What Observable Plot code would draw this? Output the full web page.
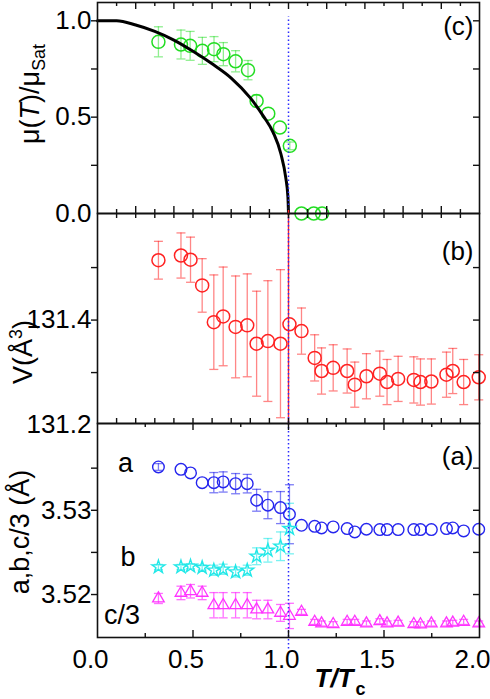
<!DOCTYPE html>
<html><head><meta charset="utf-8">
<script src="https://cdn.jsdelivr.net/npm/d3@7"></script>
<script src="https://cdn.jsdelivr.net/npm/@observablehq/plot@0.6"></script>
<style>
body{margin:0;background:#fff;}
#chart{position:relative;width:490px;height:699px;overflow:hidden;font-family:"Liberation Sans",Arial,sans-serif;background:#fff;}
#chart svg{position:absolute;left:0;}
.ylab{position:absolute;white-space:nowrap;font-size:27px;line-height:1;transform:translate(-50%,-50%) rotate(-90deg);color:#000;}
.sub{font-size:0.66em;position:relative;top:0.35em;}
.sup{font-size:0.66em;position:relative;top:-0.55em;}
</style></head><body><div id="chart"></div>
<script>
// ---------- data ----------
// panel (c): magnetic moment
const tMu = [0.319,0.437,0.485,0.549,0.61,0.659,0.723,0.788,0.833,0.894,0.955,1.007,1.068,1.132,1.176];
const mu = [0.891,0.877,0.87,0.844,0.853,0.827,0.79,0.744,0.584,0.518,0.446,0.351,0,0,0];
const muErr = [0.078,0.075,0.075,0.07,0.065,0.06,0.055,0.05,0.03,0,0,0.02,0,0,0];
// mean-field curve
const tCurve = [0,0.1,0.2,0.3,0.4,0.5,0.6,0.7,0.8,0.87,0.92,0.96,0.985,0.997,1.0];
const muCurve = [1.0,1.0,0.978,0.945,0.9,0.842,0.777,0.703,0.6,0.503,0.42,0.31,0.19,0.086,0];
// temperatures for panels (b) and (a)
const tLat = [0.319,0.437,0.487,0.548,0.609,0.658,0.723,0.784,0.833,0.892,0.958,1.005,1.068,1.137,1.173,1.234,1.307,1.347,1.408,1.478,1.516,1.574,1.656,1.691,1.748,1.827,1.86,1.917,1.996];
// panel (b): volume
const vol = [131.514,131.523,131.515,131.466,131.396,131.407,131.387,131.39,131.355,131.36,131.355,131.392,131.379,131.328,131.303,131.309,131.303,131.277,131.293,131.298,131.282,131.288,131.286,131.282,131.283,131.296,131.303,131.282,131.291];
const volErr = [0.036,0.043,0.043,0.051,0.09,0.094,0.097,0.098,0.1,0.115,0.141,0,0.044,0.044,0.044,0.044,0.042,0.043,0.043,0.043,0.043,0.043,0.044,0.044,0.043,0.043,0.043,0.043,0.043];
// panel (a): lattice parameters
const latA = [3.53514,3.53486,3.53443,3.53328,3.53328,3.53336,3.53316,3.53316,3.53119,3.5306,3.53032,3.52953,3.52822,3.5281,3.5279,3.52802,3.52783,3.52743,3.52775,3.52771,3.52771,3.52771,3.52771,3.52771,3.52771,3.52783,3.5279,3.52755,3.52775];
const latAErr = [0.0004,0,0,0,0.0012,0.0012,0.0012,0.0011,0.0013,0.0016,0.0019,0.0035,0,0,0,0,0,0,0,0,0,0,0,0,0,0,0,0,0];
const latB = [3.52327,3.52327,3.52336,3.5232,3.52288,3.523,3.52268,3.52288,3.52454,3.52525,3.52573,3.52783];
const latBErr = [0.0003,0.0003,0.0003,0.0003,0.0006,0.0006,0.0006,0.0006,0.001,0.0014,0.0017,0.003];
const latC = [3.51953,3.52019,3.52039,3.52019,3.51873,3.51873,3.51873,3.51873,3.51822,3.51822,3.51782,3.51746,3.51794,3.51675,3.51656,3.51648,3.51675,3.51675,3.51656,3.51683,3.51656,3.51664,3.51648,3.51645,3.51656,3.51656,3.51664,3.51675,3.51656];
const latCErr = [0.0006,0.0008,0.0008,0.0008,0.0015,0.0015,0.0015,0.0015,0.0011,0.0011,0.001,0.0015,0.0003,0.0003,0.0003,0.0003,0.0003,0.0003,0.0003,0.0003,0.0003,0.0003,0.0003,0.0003,0.0003,0.0003,0.0003,0.0003,0.0003];
// annotations in panel (a)
const annText = ["a","b","c/3"];
const annT = [0.147,0.16,0.129];
const annY = [3.53556,3.52444,3.51752];
const tcLine = [1.0];
// ticks
const xLabels = [0,0.5,1.0,1.5,2.0];
const xOddTenths = [0.1,0.3,0.5,0.7,0.9,1.1,1.3,1.5,1.7,1.9];
const xEvenTenths = [0.2,0.4,0.6,0.8,1.0,1.2,1.4,1.6,1.8];
const xQuarters = [0.25,0.75,1.25,1.75];
const xHalves = [0.5,1.0,1.5];
const yTicksC = [0,0.5,1.0], yMinorC = [0.25,0.5,0.75,1.0];
const yTicksB = [131.2,131.4], yMinorB = [131.3,131.4,131.5];
const yTicksA = [3.52,3.53], yMinorA = [3.52,3.525,3.53,3.535];

// ---------- layout ----------
const W = 490, ML = 97, MR = 11, FW = W - ML - MR;
const FONT = "'Liberation Sans', Arial, sans-serif";
const chart = document.getElementById("chart");
const rows = (t, y, e) => t.map((d, i) => ({t: d, y: y[i], e: e ? e[i] : 0}));
const capSym = {draw(ctx, size) { const r = Math.sqrt(size / Math.PI); ctx.moveTo(-r, 0); ctx.lineTo(r, 0); }};

function errMarks(data, color, op) {
  const d = data.filter(r => r.e > 0);
  return [
    Plot.ruleX(d, {x: "t", y1: r => r.y - r.e, y2: r => r.y + r.e, stroke: color, strokeOpacity: op, strokeWidth: 1.3}),
    Plot.dot(d, {x: "t", y: r => r.y - r.e, symbol: capSym, r: 4.5, stroke: color, strokeOpacity: op, fill: "none", strokeWidth: 1.3}),
    Plot.dot(d, {x: "t", y: r => r.y + r.e, symbol: capSym, r: 4.5, stroke: color, strokeOpacity: op, fill: "none", strokeWidth: 1.3})
  ];
}
function yTickMarks(minor, FH) {
  return [
    Plot.tickY(minor, {y: d => d, insetLeft: -6, insetRight: FW - 1, stroke: "#111", strokeWidth: 1.4}),
    Plot.tickY(minor, {y: d => d, insetLeft: FW - 6, insetRight: 0, stroke: "#111", strokeWidth: 1.4})
  ];
}
function topTicks(vals, len, FH) { return Plot.tickX(vals, {x: d => d, insetTop: 0, insetBottom: FH - len, stroke: "#111", strokeWidth: 1.4}); }
function botTicks(vals, len, FH) { return Plot.tickX(vals, {x: d => d, insetBottom: 0, insetTop: FH - len, stroke: "#111", strokeWidth: 1.4}); }

function panel(top, mt, FH, mb, ydomain, marks, showX) {
  const svg = Plot.plot({
    width: W, height: mt + FH + mb,
    marginLeft: ML, marginRight: MR, marginTop: mt, marginBottom: mb,
    x: {domain: [0, 2], axis: showX ? undefined : null},
    y: {domain: ydomain},
    style: `background:transparent;overflow:visible;font-family:${FONT};`,
    marks
  });
  svg.style.top = (top - mt) + "px";
  chart.appendChild(svg);
}
const axisTxt = {tickSize: 0, tickPadding: 6, fontSize: 26, label: null, fill: "#000"};

// ---------- panel (c) ----------
{
  const FH = 211;
  const d = rows(tMu, mu, muErr);
  const green = "#22dd22";
  panel(2, 2, FH, 10, [0, 1.095], [
    ...errMarks(d, green, 0.5),
    Plot.dot(d, {x: "t", y: "y", r: 6.5, stroke: green, strokeWidth: 1.5, fill: "none"}),
    Plot.line(rows(tCurve, muCurve), {x: "t", y: "y", stroke: "#000", strokeWidth: 3, curve: "monotone-x"}),
    Plot.ruleX(tcLine, {x: d => d, y1: 0, y2: 1.02, stroke: "#2a2aff", strokeWidth: 1.5, strokeDasharray: "1.5,2.5"}),
    topTicks(xEvenTenths, 7, FH), topTicks(xOddTenths, 4, FH),
    botTicks(xEvenTenths, 7, FH), botTicks(xOddTenths, 4, FH),
    ...yTickMarks(yMinorC, FH),
    Plot.axisY({...axisTxt, ticks: yTicksC, tickFormat: d3.format(".1f")}),
    Plot.text(["(c)"], {frameAnchor: "top-right", textAnchor: "end", lineAnchor: "top", dx: -6, dy: 14, fontSize: 26}),
    Plot.frame({stroke: "#111", strokeWidth: 1.6})
  ], false);
}
// ---------- panel (b) ----------
{
  const FH = 210;
  const d = rows(tLat, vol, volErr);
  const red = "#ff2222";
  panel(213, 10, FH, 10, [131.203, 131.603], [
    ...errMarks(d, red, 0.55),
    Plot.dot(d, {x: "t", y: "y", r: 6.5, stroke: red, strokeWidth: 1.5, fill: "none"}),
    Plot.ruleX(tcLine, {x: d => d, stroke: red, strokeWidth: 1.4, insetTop: -3, insetBottom: -2}),
    Plot.ruleX(tcLine, {x: d => d, stroke: "#2a2aff", strokeWidth: 1.5, strokeDasharray: "1.5,2.5"}),
    topTicks([...xOddTenths, ...xEvenTenths], 5, FH), botTicks([...xOddTenths, ...xEvenTenths], 5, FH),
    ...yTickMarks(yMinorB, FH),
    Plot.axisY({...axisTxt, ticks: yTicksB, tickFormat: d3.format(".1f")}),
    Plot.text(["(b)"], {frameAnchor: "top-right", textAnchor: "end", lineAnchor: "top", dx: -6, dy: 28, fontSize: 26}),
    Plot.frame({stroke: "#111", strokeWidth: 1.6})
  ], false);
}
// ---------- panel (a) ----------
{
  const FH = 214;
  const dA = rows(tLat, latA, latAErr);
  const dB = rows(tLat.slice(0, latB.length), latB, latBErr);
  const dC = rows(tLat, latC, latCErr);
  const blue = "#2525ee", cyan = "#22e8e8", mag = "#ff33ff";
  panel(423, 10, FH, 62, [3.5149, 3.5403], [
    ...errMarks(dA, blue, 0.6), ...errMarks(dB, cyan, 0.6), ...errMarks(dC, mag, 0.7),
    Plot.dot(dA, {x: "t", y: "y", r: 5.8, stroke: blue, strokeWidth: 1.4, fill: "none"}),
    Plot.dot(dB, {x: "t", y: "y", r: 4.1, symbol: "star", stroke: cyan, strokeWidth: 1.4, fill: "none"}),
    Plot.dot(dC, {x: "t", y: "y", r: 4.3, symbol: "triangle", stroke: mag, strokeWidth: 1.3, fill: "none"}),
    Plot.ruleX(tcLine, {x: d => d, stroke: "#2a2aff", strokeWidth: 1.5, strokeDasharray: "1.5,2.5", insetBottom: -13}),
    topTicks(xHalves, 7, FH), topTicks(xQuarters, 4, FH),
    botTicks(xHalves, 7, FH), botTicks(xQuarters, 4, FH),
    ...yTickMarks(yMinorA, FH),
    Plot.axisY({...axisTxt, ticks: yTicksA, tickFormat: d3.format(".2f")}),
    Plot.axisX({anchor: "bottom", ticks: xLabels, tickSize: 0, tickPadding: 12, fontSize: 26, dx: -7, label: null, fill: "#000", tickFormat: d3.format(".1f")}),
    Plot.text(annText, {x: (d, i) => annT[i], y: (d, i) => annY[i], text: d => d, fontSize: 27, lineAnchor: "middle"}),
    Plot.text(["(a)"], {frameAnchor: "top-right", textAnchor: "end", lineAnchor: "top", dx: -6, dy: 23, fontSize: 26}),
    Plot.text(["T/T"], {frameAnchor: "bottom", textAnchor: "start", lineAnchor: "middle", dx: 26, dy: 41, fontSize: 26, fontWeight: "bold", fontStyle: "italic"}),
    Plot.text(["c"], {frameAnchor: "bottom", textAnchor: "start", lineAnchor: "middle", dx: 67, dy: 52, fontSize: 18, fontWeight: "bold"}),
    Plot.frame({stroke: "#111", strokeWidth: 1.6})
  ], true);
}
// ---------- axis titles ----------
function ylab(html, x, y) {
  const div = document.createElement("div");
  div.className = "ylab"; div.innerHTML = html;
  div.style.left = x + "px"; div.style.top = y + "px";
  chart.appendChild(div);
}
ylab('μ(<i>T</i>)/μ<span class="sub">Sat</span>', 30, 94);
ylab('V(Å<span class="sup">3</span>)', 23, 352);
ylab('a,b,c/3 (Å)', 20, 532);
</script></body></html>
